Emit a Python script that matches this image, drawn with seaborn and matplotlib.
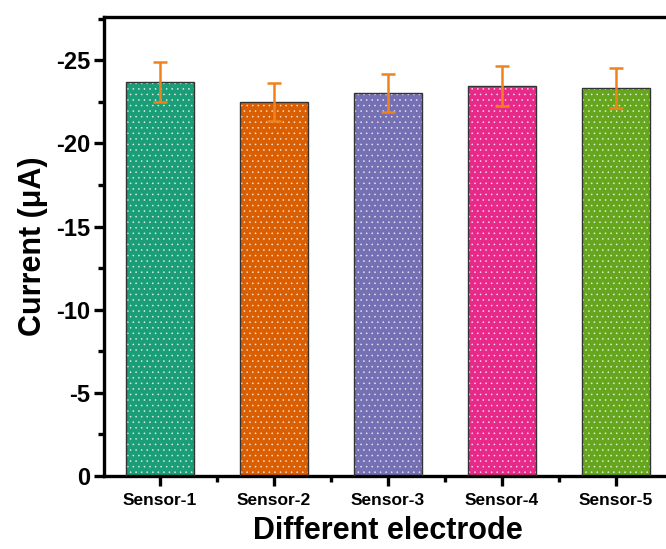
import matplotlib
matplotlib.use("Agg")
import matplotlib.pyplot as plt
from matplotlib.patches import Rectangle
from matplotlib.ticker import MultipleLocator
import pandas as pd
import seaborn as sns

# Data
sensors = ["Sensor-1", "Sensor-2", "Sensor-3", "Sensor-4", "Sensor-5"]
current = [-23.7, -22.5, -23.05, -23.45, -23.35]
error = [1.2, 1.15, 1.15, 1.2, 1.2]
colors = ["#1b9e77", "#d95f02", "#7570b3", "#e7298a", "#66a61e"]

df = pd.DataFrame({"sensor": sensors, "current": current})

sns.set_style("ticks")
plt.rcParams["font.family"] = ["Liberation Sans", "DejaVu Sans"]
plt.rcParams["font.weight"] = "bold"
plt.rcParams["axes.unicode_minus"] = False
plt.rcParams["hatch.linewidth"] = 0.4
for k in ["text.color", "axes.labelcolor", "xtick.color", "ytick.color", "axes.edgecolor"]:
    plt.rcParams[k] = "black"

fig = plt.figure(figsize=(6.66, 5.49), dpi=100)
ax = fig.add_axes([104 / 666, 73 / 549, 568 / 666, 459 / 549])

sns.barplot(data=df, x="sensor", y="current", hue="sensor", palette=colors,
            saturation=1, width=0.6, linewidth=0, legend=False, ax=ax)

# white dotted hatch + thin dark outline on each bar
for p in list(ax.patches):
    p.set_hatch("...")
    p.set_edgecolor((1, 1, 1, 0.75))
    p.set_linewidth(0)
    ax.add_patch(Rectangle(p.get_xy(), p.get_width(), p.get_height(),
                           facecolor="none", edgecolor="#333333", lw=1.0, zorder=3))

ax.errorbar(range(len(sensors)), current, yerr=error, fmt="none",
            ecolor="#f0821e", elinewidth=1.8, capsize=5, capthick=1.8, zorder=4)

ax.set_xlim(-0.49, 4.49)
ax.set_ylim(0, -27.6)
ax.yaxis.set_minor_locator(MultipleLocator(2.5))
ax.set_xticks(range(5))
ax.set_xticks([0.5, 1.5, 2.5, 3.5], minor=True)
ax.set_yticks([0, -5, -10, -15, -20, -25])
ax.set_yticklabels(["0", "-5", "-10", "-15", "-20", "-25"])

for s in ax.spines.values():
    s.set_linewidth(2.4)
ax.tick_params(axis="both", which="major", direction="out", length=7, width=2.4)
ax.tick_params(axis="both", which="minor", direction="out", length=4, width=2.4)
ax.tick_params(axis="y", labelsize=17, pad=3)
ax.tick_params(axis="x", labelsize=12.5, pad=5)
for lbl in ax.get_xticklabels() + ax.get_yticklabels():
    lbl.set_fontweight("bold")

ax.set_xlabel("Different electrode", fontsize=22, fontweight="bold", labelpad=6)
ax.set_ylabel("Current (μA)", fontsize=22, fontweight="bold", labelpad=6)

fig.savefig("out.png", dpi=100)
